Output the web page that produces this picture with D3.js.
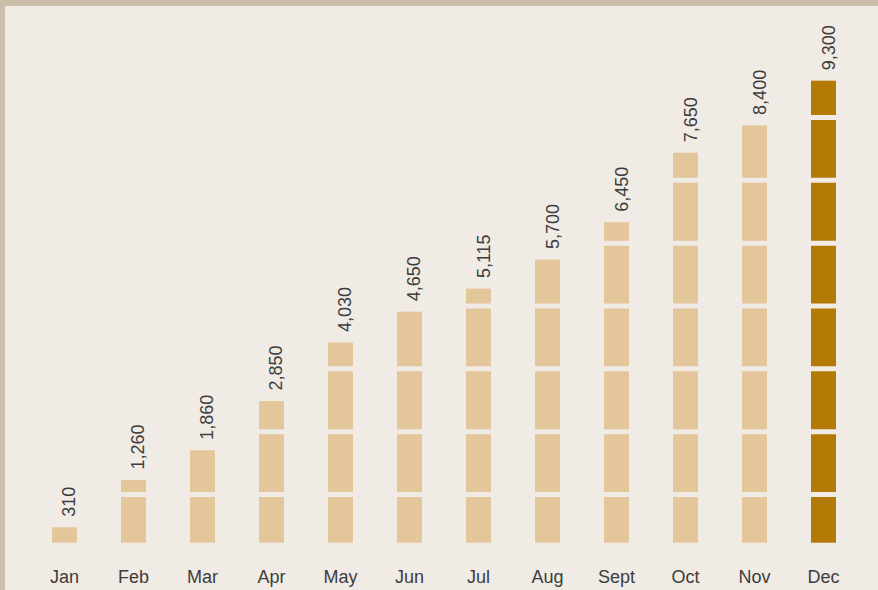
<!DOCTYPE html>
<html>
<head>
<meta charset="utf-8">
<script src="https://cdn.jsdelivr.net/npm/d3@7"></script>
<style>
  html, body { margin: 0; padding: 0; background: #f0ebe5; }
  svg { display: block; }
</style>
</head>
<body>
<div id="chart"></div>
<script>
// months along the bottom
const months = ["Jan", "Feb", "Mar", "Apr", "May", "Jun", "Jul", "Aug", "Sept", "Oct", "Nov", "Dec"];
// bar heights as drawn (the Oct bar is drawn a little taller than its label says)
const values = [310, 1260, 1860, 2850, 4030, 4650, 5115, 5700, 6450, 7850, 8400, 9300];
// labels printed above the bars
const valueLabels = ["310", "1,260", "1,860", "2,850", "4,030", "4,650", "5,115", "5,700", "6,450", "7,650", "8,400", "9,300"];
// white rules cutting across the bars
const gridValues = [970, 2235, 3500, 4765, 6030, 7295, 8560];

const width = 878;
const height = 590;
const bg = "#f0ebe5";

const svg = d3.select("#chart")
    .append("svg")
    .attr("width", width)
    .attr("height", height);

svg.append("rect")
    .attr("width", width)
    .attr("height", height)
    .attr("fill", bg);

// frame on top and left
svg.append("rect").attr("x", 0).attr("y", 0).attr("width", width).attr("height", 6).attr("fill", "#cbbfab");
svg.append("rect").attr("x", 0).attr("y", 0).attr("width", 5).attr("height", height).attr("fill", "#cbbfab");

const x = d3.scaleBand()
    .domain(months)
    .range([17.5, 870.5])
    .paddingInner(0.6377)
    .paddingOuter(0.5);

const y = d3.scaleLinear()
    .domain([0, 10000])
    .range([542.7, 45.9]);

const rows = months.map((m, i) => ({ month: m, value: values[i], label: valueLabels[i] }));

// bars
svg.append("g")
    .selectAll("rect")
    .data(rows)
    .join("rect")
    .attr("x", d => x(d.month))
    .attr("y", d => y(d.value))
    .attr("width", x.bandwidth())
    .attr("height", d => y(0) - y(d.value))
    .attr("fill", (d, i) => i === rows.length - 1 ? "#b37a06" : "#e4c69b");

// gaps across the bars
svg.append("g")
    .selectAll("line")
    .data(gridValues)
    .join("line")
    .attr("x1", 5)
    .attr("x2", width)
    .attr("y1", d => y(d))
    .attr("y2", d => y(d))
    .attr("stroke", bg)
    .attr("stroke-width", 5);

// value labels, rotated
svg.append("g")
    .selectAll("text")
    .data(rows)
    .join("text")
    .attr("transform", d => `translate(${x(d.month) + x.bandwidth() / 2 + 11}, ${y(d.value) - 10.5}) rotate(-90)`)
    .attr("text-anchor", "start")
    .style("font-family", "'Liberation Sans', Arial, Helvetica, sans-serif")
    .style("font-size", "18px")
    .style("fill", "#3d3d3d")
    .text(d => d.label);

// month labels
svg.append("g")
    .selectAll("text")
    .data(months)
    .join("text")
    .attr("x", d => x(d) + x.bandwidth() / 2)
    .attr("y", 583)
    .attr("text-anchor", "middle")
    .style("font-family", "'Liberation Sans', Arial, Helvetica, sans-serif")
    .style("font-size", "18px")
    .style("fill", "#3d3d3d")
    .text(d => d);
</script>
</body>
</html>
